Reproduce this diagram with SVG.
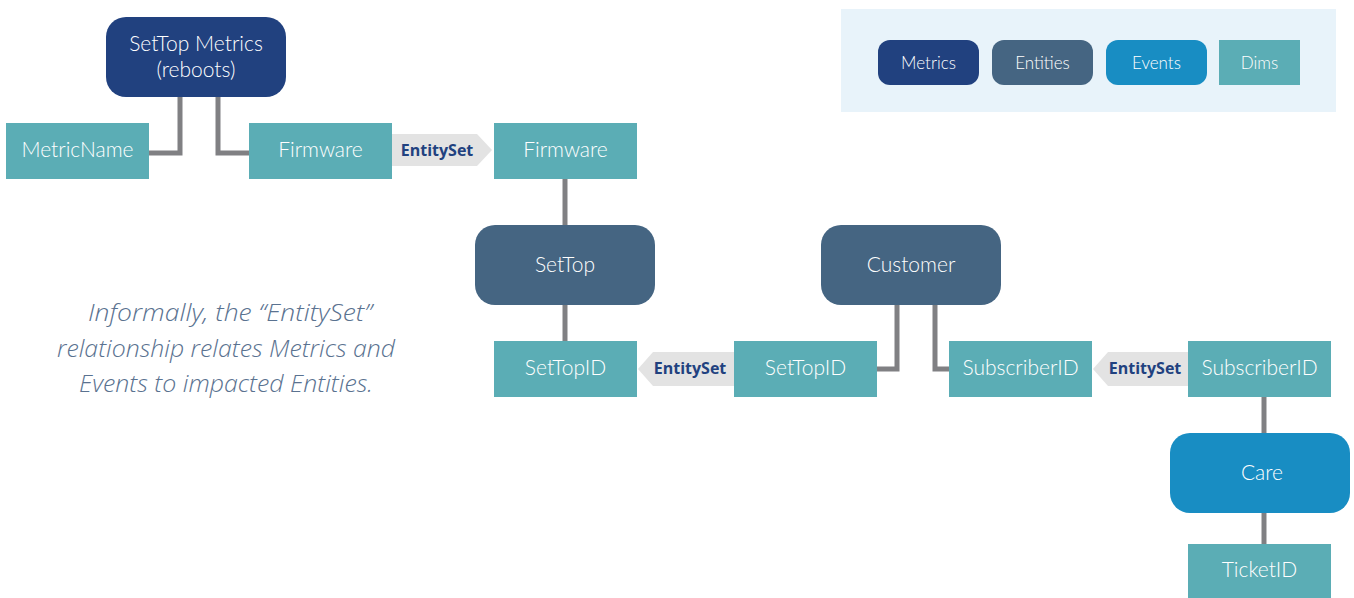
<svg xmlns="http://www.w3.org/2000/svg" width="1354" height="598" viewBox="0 0 1354 598">
<style>
.dim{fill:#5badb5}
.met{fill:#21417f}
.ent{fill:#456582}
.evt{fill:#188dc3}
.t{font-family:Lato,"Open Sans",sans-serif;font-size:21px;font-weight:300;fill:#ffffff;text-anchor:middle}
.lt{font-family:Lato,"Open Sans",sans-serif;font-size:17px;font-weight:300;fill:#ffffff;text-anchor:middle}
.es{font-family:"Open Sans",Lato,sans-serif;font-size:16px;font-weight:bold;fill:#21417f;text-anchor:middle}
.arr{fill:#e3e3e3}
.ln{fill:none;stroke:#808083;stroke-width:5}
.note{font-family:"Open Sans",Lato,sans-serif;font-style:italic;font-weight:300;font-size:23px;fill:#5a7290;text-anchor:middle}
</style>
<rect x="841" y="9" width="495" height="103" fill="#e8f3fa"/>
<g id="legend">
<rect class="met" x="878" y="40" width="101" height="45" rx="12"/><text class="lt" x="928.5" y="69">Metrics</text>
<rect class="ent" x="992" y="40" width="101" height="45" rx="12"/><text class="lt" x="1042.5" y="69">Entities</text>
<rect class="evt" x="1106" y="40" width="101" height="45" rx="12"/><text class="lt" x="1156.5" y="69">Events</text>
<rect class="dim" x="1219" y="40" width="81" height="45"/><text class="lt" x="1259.5" y="69">Dims</text>
</g>
<g id="connectors">
<polyline class="ln" points="180,97 180,153 149,153"/>
<polyline class="ln" points="218,97 218,153 249,153"/>
<line class="ln" x1="565" y1="179" x2="565" y2="225"/>
<line class="ln" x1="565" y1="305" x2="565" y2="341"/>
<polyline class="ln" points="877,369 897,369 897,305"/>
<polyline class="ln" points="935,305 935,369 949,369"/>
<line class="ln" x1="1264" y1="397" x2="1264" y2="433"/>
<line class="ln" x1="1264" y1="513" x2="1264" y2="544"/>
<g id="entityset1"><polygon class="arr" points="392,134 477,134 492,150 477,166 392,166"/><text class="es" x="437" y="156">EntitySet</text></g>
<g id="entityset2"><polygon class="arr" points="734,352 653,352 638,369 653,386 734,386"/><text class="es" x="690" y="374">EntitySet</text></g>
<g id="entityset3"><polygon class="arr" points="1188,352 1108,352 1093,369 1108,386 1188,386"/><text class="es" x="1145" y="374">EntitySet</text></g>
</g>
<g id="setTopMetrics"><rect class="met" x="106" y="17" width="180" height="80" rx="20"/><text class="t" x="196" y="51">SetTop Metrics</text><text class="t" x="196" y="77">(reboots)</text></g>
<g id="metricName"><rect class="dim" x="6" y="123" width="143" height="56"/><text class="t" x="77.5" y="157">MetricName</text></g>
<g id="firmware1"><rect class="dim" x="249" y="123" width="143" height="56"/><text class="t" x="320.5" y="157">Firmware</text></g>
<g id="firmware2"><rect class="dim" x="494" y="123" width="143" height="56"/><text class="t" x="565.5" y="157">Firmware</text></g>
<g id="setTop"><rect class="ent" x="475" y="225" width="180" height="80" rx="20"/><text class="t" x="565" y="272">SetTop</text></g>
<g id="setTopID1"><rect class="dim" x="494" y="341" width="143" height="56"/><text class="t" x="565.5" y="375">SetTopID</text></g>
<g id="setTopID2"><rect class="dim" x="734" y="341" width="143" height="56"/><text class="t" x="805.5" y="375">SetTopID</text></g>
<g id="customer"><rect class="ent" x="821" y="225" width="180" height="80" rx="20"/><text class="t" x="911" y="272">Customer</text></g>
<g id="subscriberID1"><rect class="dim" x="949" y="341" width="143" height="56"/><text class="t" x="1020.5" y="375">SubscriberID</text></g>
<g id="subscriberID2"><rect class="dim" x="1188" y="341" width="143" height="56"/><text class="t" x="1259.5" y="375">SubscriberID</text></g>
<g id="care"><rect class="evt" x="1170" y="433" width="180" height="80" rx="20"/><text class="t" x="1262" y="480">Care</text></g>
<g id="ticketID"><rect class="dim" x="1188" y="544" width="143" height="54"/><text class="t" x="1259.5" y="577">TicketID</text></g>
<g id="note">
<text class="note" x="230" y="321" textLength="284" lengthAdjust="spacingAndGlyphs">Informally, the “EntitySet”</text>
<text class="note" x="226" y="357" textLength="338" lengthAdjust="spacingAndGlyphs">relationship relates Metrics and</text>
<text class="note" x="226" y="392" textLength="294" lengthAdjust="spacingAndGlyphs">Events to impacted Entities.</text>
</g>
</svg>
